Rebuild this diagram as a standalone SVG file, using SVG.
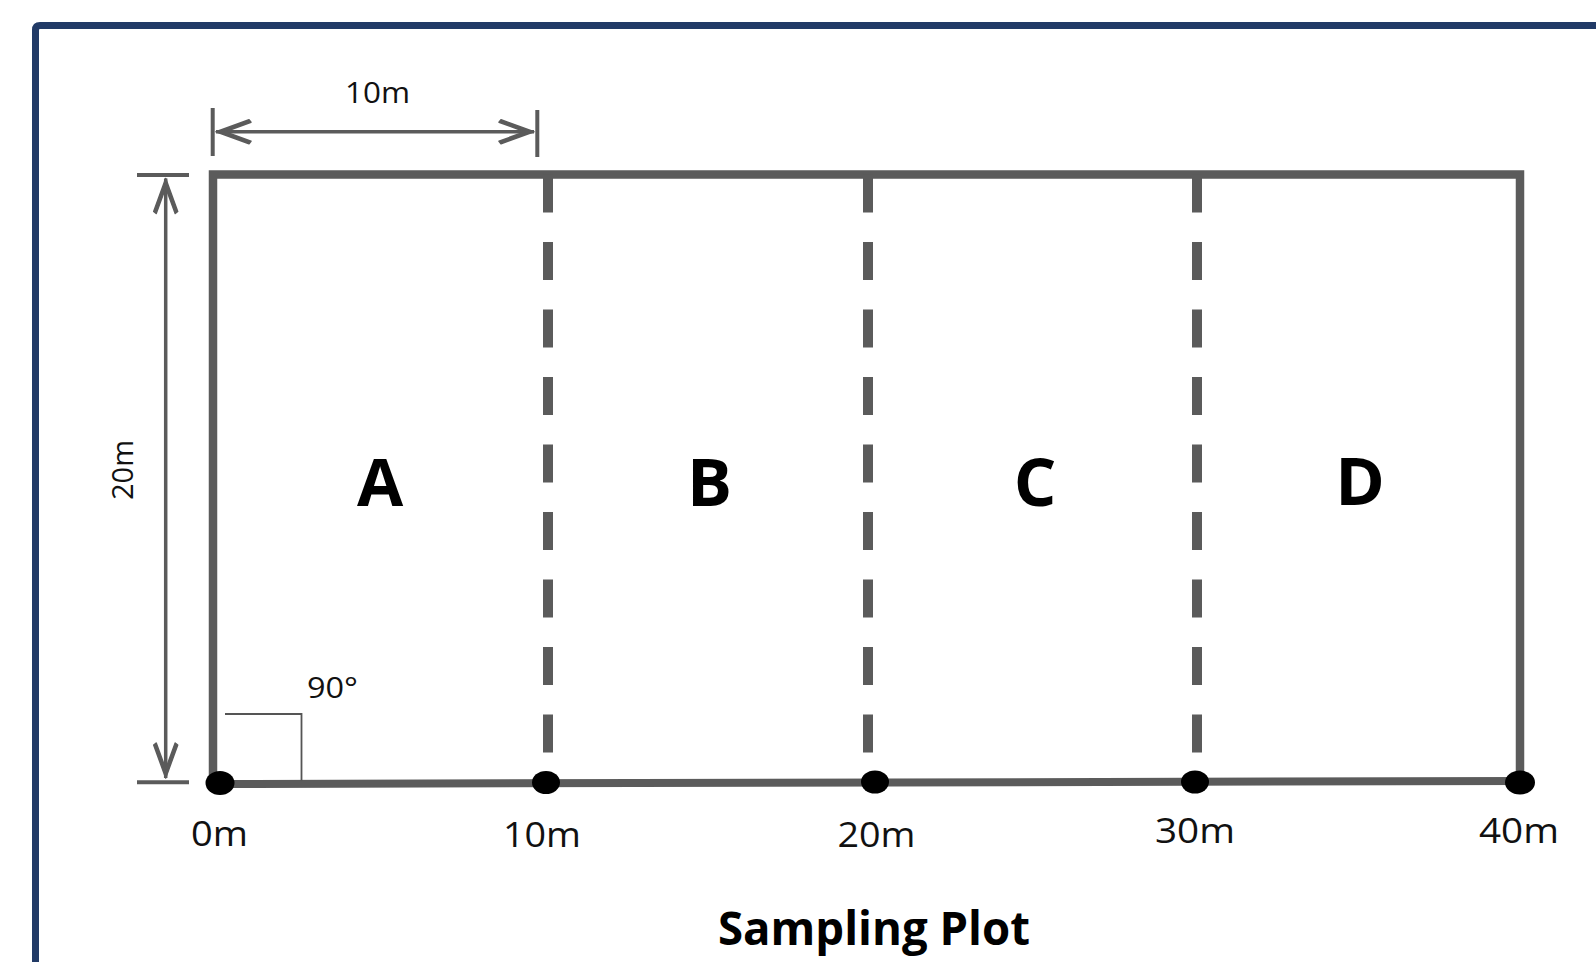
<svg xmlns="http://www.w3.org/2000/svg" width="1596" height="962" viewBox="0 0 1596 962">
<style>
.plot{stroke:#5b5b5b;fill:none;stroke-linecap:square}
.dash{stroke:#5b5b5b;stroke-width:10;stroke-dasharray:38 29.5;fill:none}
.dim{stroke:#5b5b5b;stroke-width:3.5;fill:none}
.tick{stroke:#5b5b5b;stroke-width:4;fill:none}
.dot{fill:#000}
.lbl{font-family:"Open Sans","Noto Sans","Liberation Sans",sans-serif;fill:#111}
.big{font-family:"Open Sans","Noto Sans","Liberation Sans",sans-serif;font-weight:700;fill:#000;font-size:67px;text-anchor:middle}
.title{font-family:"Open Sans","Noto Sans","Liberation Sans",sans-serif;font-weight:700;fill:#000;font-size:46px;text-anchor:middle}
</style>
<defs>
<marker id="arr" viewBox="-38 -15 40 30" refX="0" refY="0" markerWidth="40" markerHeight="30" markerUnits="userSpaceOnUse" orient="auto-start-reverse">
<path d="M0,0 L-33,-12 L-35,-9.5 L-9,0 L-35,9.5 L-33,12 Z" fill="#5b5b5b" stroke="#5b5b5b" stroke-width="1.5" stroke-linejoin="round"/>
</marker>
</defs>
<rect width="1596" height="962" fill="#fff"/>
<g id="frame">
<path d="M35.5,970 V30 Q35.5,25.5 40,25.5 H1600" stroke="#213a66" stroke-width="7" fill="none"/>
</g>
<g id="plot">
<path class="plot" d="M213,784 V174.5 H1520 V781" stroke-width="8.5"/>
<path class="plot" d="M213,784 L1520,781" stroke-width="8"/>
</g>
<g id="dividers">
<line class="dash" x1="548" y1="174.5" x2="548" y2="782"/>
<line class="dash" x1="868" y1="174.5" x2="868" y2="782"/>
<line class="dash" x1="1197" y1="174.5" x2="1197" y2="782"/>
</g>
<g id="right-angle">
<path d="M225,714 H301.5 V781" stroke="#555" stroke-width="1.8" fill="none"/>
</g>
<g id="points">
<ellipse class="dot" cx="220" cy="783" rx="14.5" ry="12"/>
<ellipse class="dot" cx="546" cy="782.5" rx="14" ry="11.5"/>
<ellipse class="dot" cx="875" cy="782" rx="14" ry="11.5"/>
<ellipse class="dot" cx="1195" cy="782" rx="14" ry="11.5"/>
<ellipse class="dot" cx="1520" cy="782.5" rx="15" ry="12"/>
</g>
<g id="connectors">
<line class="tick" x1="212.7" y1="108" x2="212.7" y2="156"/>
<line class="tick" x1="537.3" y1="110" x2="537.3" y2="157"/>
<line class="dim" x1="216" y1="131.7" x2="534" y2="131.7" marker-start="url(#arr)" marker-end="url(#arr)"/>
<line class="tick" x1="137" y1="175" x2="189" y2="175"/>
<line class="tick" x1="137" y1="782.3" x2="189" y2="782.3"/>
<line class="dim" x1="165.7" y1="178.5" x2="165.7" y2="778" marker-start="url(#arr)" marker-end="url(#arr)"/>
</g>
<g id="labels">
<text class="lbl" x="377.5" y="103" font-size="30" text-anchor="middle" textLength="65" lengthAdjust="spacingAndGlyphs">10m</text>
<text class="lbl" transform="translate(133,470) rotate(-90)" font-size="30" text-anchor="middle" textLength="60" lengthAdjust="spacingAndGlyphs">20m</text>
<text class="lbl" x="307" y="698" font-size="30" textLength="51" lengthAdjust="spacingAndGlyphs">90°</text>
<text class="lbl" x="219.5" y="846" font-size="34" text-anchor="middle" textLength="57" lengthAdjust="spacingAndGlyphs">0m</text>
<text class="lbl" x="542" y="847" font-size="34" text-anchor="middle" textLength="78" lengthAdjust="spacingAndGlyphs">10m</text>
<text class="lbl" x="876.5" y="847" font-size="34" text-anchor="middle" textLength="78" lengthAdjust="spacingAndGlyphs">20m</text>
<text class="lbl" x="1195" y="843" font-size="34" text-anchor="middle" textLength="80" lengthAdjust="spacingAndGlyphs">30m</text>
<text class="lbl" x="1519" y="843" font-size="34" text-anchor="middle" textLength="80" lengthAdjust="spacingAndGlyphs">40m</text>
</g>
<g id="sections">
<text class="big" x="380" y="506">A</text>
<text class="big" x="709.5" y="506">B</text>
<text class="big" x="1035" y="506">C</text>
<text class="big" x="1360" y="505">D</text>
</g>
<g id="title">
<text class="title" x="874" y="945" textLength="312" lengthAdjust="spacingAndGlyphs">Sampling Plot</text>
</g>
</svg>
